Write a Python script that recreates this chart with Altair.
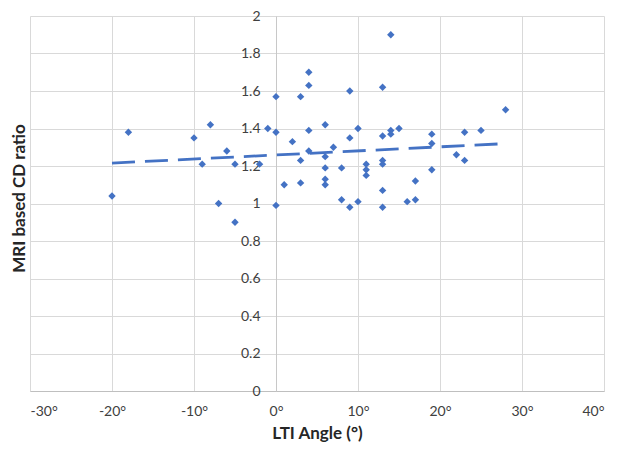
import altair as alt
import pandas as pd

lti_angle = [-20, -18, -10, -9, -8, -7, -6, -5, -5, -2, -1, 0, 0, 0, 1, 2, 3, 3, 3,
             4, 4, 4, 4, 6, 6, 6, 6, 6, 7, 8, 8, 9, 9, 9, 10, 10, 11, 11, 11,
             13, 13, 13, 13, 13, 13, 14, 14, 14, 15, 16, 17, 17, 19, 19, 19,
             22, 23, 23, 25, 28]
cd_ratio = [1.04, 1.38, 1.35, 1.21, 1.42, 1.00, 1.28, 1.21, 0.90, 1.21, 1.40, 1.57, 1.38, 0.99, 1.10, 1.33, 1.57, 1.23, 1.11,
            1.70, 1.63, 1.39, 1.28, 1.42, 1.25, 1.19, 1.13, 1.10, 1.30, 1.19, 1.02, 1.60, 1.35, 0.98, 1.40, 1.01, 1.21, 1.18, 1.15,
            1.62, 1.36, 1.23, 1.21, 1.07, 0.98, 1.90, 1.39, 1.37, 1.40, 1.01, 1.12, 1.02, 1.37, 1.32, 1.18,
            1.26, 1.38, 1.23, 1.39, 1.50]
x_ticks = [-30, -20, -10, 0, 10, 20, 30, 40]
y_ticks = [0, 0.2, 0.4, 0.6, 0.8, 1, 1.2, 1.4, 1.6, 1.8, 2]

df = pd.DataFrame({"angle": lti_angle, "ratio": cd_ratio})

W, H = 574, 375
PAD_TOP = 8
x0 = W * 30 / 70
BLUE = "#4472C4"
FONT = "Lato"

xscale = alt.Scale(domain=[-30, 40], nice=False, zero=False)
yscale = alt.Scale(domain=[0, 2], nice=False, zero=False)

xaxis = alt.Axis(values=x_ticks, labelExpr="datum.value + '°'", title="LTI Angle (°)",
                 grid=True, gridColor="#d9d9d9", gridWidth=1, labelOverlap=False,
                 domainColor="#bfbfbf", ticks=False, labelPadding=13,
                 labelFont=FONT, labelFontSize=14, labelColor="#404040",
                 titleFont=FONT, titleFontSize=17, titleFontWeight="bold",
                 titleColor="#262626", titlePadding=7)
yaxis = alt.Axis(values=y_ticks, labelExpr="format(datum.value, '~g')",
                 title="MRI based CD ratio", offset=-x0, labelOverlap=False,
                 grid=True, gridColor="#d9d9d9", gridWidth=1,
                 domainColor="#c8c8c8", ticks=False, labelPadding=16,
                 labelAlign="right", labelBaseline="middle",
                 labelFont=FONT, labelFontSize=14, labelColor="#404040",
                 titleFont=FONT, titleFontSize=17, titleFontWeight="bold",
                 titleColor="#262626", titleX=-(x0 + 11), titleY=198 - 8 - PAD_TOP,
                 titleAngle=270, titleAlign="center", titleBaseline="middle")

base = alt.Chart(df)

points = base.mark_point(shape="diamond", filled=True, size=55, color=BLUE, opacity=1).encode(
    x=alt.X("angle:Q", scale=xscale, axis=xaxis),
    y=alt.Y("ratio:Q", scale=yscale, axis=yaxis),
)

trend = base.transform_regression("angle", "ratio").mark_line(
    color=BLUE, strokeWidth=2.8, strokeDash=[23, 10]
).encode(
    x=alt.X("angle:Q", scale=xscale, axis=xaxis),
    y=alt.Y("ratio:Q", scale=yscale, axis=yaxis),
)

chart = alt.layer(points, trend).properties(
    width=W, height=H,
    autosize=alt.AutoSizeParams(type="none"),
    padding={"left": 22, "top": PAD_TOP, "right": 10, "bottom": 51},
).configure_view(stroke=None).configure_axis(labelOverlap=False)

chart.save("out.html", embed_options={"renderer": "svg", "actions": False})
